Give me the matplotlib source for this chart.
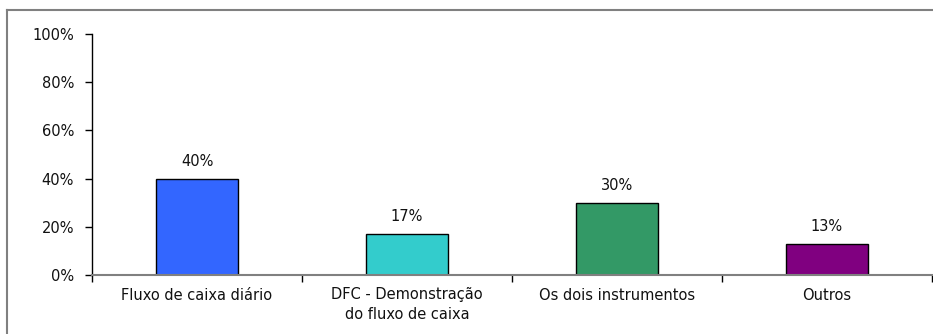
import matplotlib
matplotlib.use("Agg")
import matplotlib.pyplot as plt
from matplotlib.lines import Line2D

plt.rcParams['font.family'] = ['DejaVu Sans']

categories = ["Fluxo de caixa diário", "DFC - Demonstração\ndo fluxo de caixa",
              "Os dois instrumentos", "Outros"]
values = [40, 17, 30, 13]
colors = ["#3366FF", "#33CCCC", "#339966", "#800080"]
yticks = [0, 20, 40, 60, 80, 100]
ytick_labels = ["0%", "20%", "40%", "60%", "80%", "100%"]

W, H = 933, 334
fig = plt.figure(figsize=(W / 100, H / 100), dpi=100)

# outer frame (left and top edges, the rest runs off the image)
fig.add_artist(Line2D([7 / W, 7 / W], [0, 1 - 10 / H], transform=fig.transFigure,
                      color="#808080", lw=1.5))
fig.add_artist(Line2D([7 / W, 1], [1 - 10 / H, 1 - 10 / H], transform=fig.transFigure,
                      color="#808080", lw=1.5))

ax = fig.add_axes([92 / W, 59 / H, 840 / W, 241 / H])
x = list(range(len(categories)))
bars = ax.bar(x, values, width=0.395, color=colors, edgecolor="black", linewidth=1.0)

fs = 10.5
for xi, v in zip(x, values):
    ax.text(xi, v + 4, f"{v}%", ha="center", va="bottom", fontsize=fs, color="#111111")

ax.set_xlim(-0.5, len(categories) - 0.5)
ax.set_ylim(0, 100)
ax.set_yticks(yticks)
ax.set_yticklabels(ytick_labels, fontsize=fs, color="#111111")
ax.set_xticks(x)
ax.set_xticklabels(categories, fontsize=fs, linespacing=1.4, color="#111111")
ax.set_xticks([i - 0.5 for i in range(len(categories) + 1)], minor=True)
ax.tick_params(axis="x", which="major", length=0, pad=9)
ax.tick_params(axis="x", which="minor", length=5, width=1, color="black", direction="out")
ax.tick_params(axis="y", length=5, width=1, direction="out", pad=8)

for s in ("top", "right"):
    ax.spines[s].set_visible(False)
ax.spines["bottom"].set_color("#808080")
ax.spines["bottom"].set_linewidth(1.5)
ax.spines["left"].set_color("black")
ax.spines["left"].set_linewidth(1.0)

fig.savefig("out.png", dpi=100)
